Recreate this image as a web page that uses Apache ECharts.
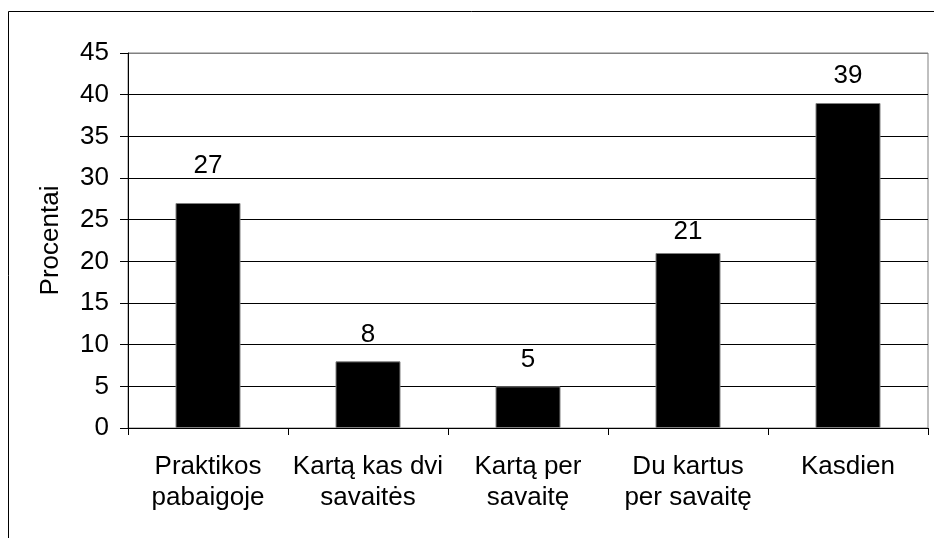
<!DOCTYPE html>
<html>
<head>
<meta charset="utf-8">
<script src="https://cdn.jsdelivr.net/npm/echarts@6/dist/echarts.min.js"></script>
<style>
  html, body { margin: 0; padding: 0; background: #fff; }
  #chart { width: 934px; height: 538px; }
</style>
</head>
<body>
<div id="chart"></div>
<script>
// data
var categories = [
  "Praktikos\npabaigoje",
  "Kartą kas dvi\nsavaitės",
  "Kartą per\nsavaitę",
  "Du kartus\nper savaitę",
  "Kasdien"
];
var percentValues = [27, 8, 5, 21, 39];
var yAxisName = "Procentai";

var font = "Liberation Sans, Arial, sans-serif";

var myChart = echarts.init(document.getElementById("chart"));

// a few labels sit at a different gap from their bar in the original
var labelGaps = { 0: 24, 3: 8 };
var barData = percentValues.map(function (v, i) {
  if (labelGaps[i] !== undefined) {
    return { value: v, label: { distance: labelGaps[i] } };
  }
  return v;
});

var option = {
  backgroundColor: "#fff",
  animation: false,
  textStyle: { fontFamily: font },
  graphic: [
    {
      type: "rect",
      shape: { x: 8.5, y: 11.5, width: 2000, height: 2000 },
      style: { fill: "none", stroke: "#000", lineWidth: 1 },
      silent: true,
      z: -10
    }
  ],
  grid: {
    left: 128,
    top: 53,
    right: 6,
    bottom: 110,
    show: true,
    borderColor: "#808080",
    borderWidth: 1
  },
  xAxis: {
    type: "category",
    data: categories,
    axisLine: { show: true, lineStyle: { color: "#000", width: 1 } },
    axisTick: { show: true, length: 7, lineStyle: { color: "#000" } },
    axisLabel: {
      color: "#000",
      fontSize: 26,
      fontFamily: font,
      lineHeight: 31,
      margin: 23,
      interval: 0
    }
  },
  yAxis: {
    type: "value",
    min: 0,
    max: 45,
    interval: 5,
    name: yAxisName,
    nameLocation: "middle",
    nameGap: 64,
    nameRotate: 90,
    nameTextStyle: { color: "#000", fontSize: 26, fontFamily: font },
    axisLine: { show: true, lineStyle: { color: "#000", width: 1 } },
    axisTick: { show: true, length: 8, lineStyle: { color: "#000" } },
    axisLabel: { color: "#000", fontSize: 26, fontFamily: font, margin: 19 },
    splitLine: {
      show: true,
      lineStyle: {
        color: ["#000", "#000", "#000", "#000", "#000", "#000", "#000", "#000", "#000", "#808080"],
        width: 1
      }
    }
  },
  series: [
    {
      type: "bar",
      data: barData,
      barWidth: 65,
      itemStyle: { color: "#000", borderColor: "#808080", borderWidth: 1 },
      label: {
        show: true,
        position: "top",
        distance: 14,
        color: "#000",
        fontSize: 26,
        fontFamily: font
      }
    }
  ]
};

myChart.setOption(option);
</script>
</body>
</html>
